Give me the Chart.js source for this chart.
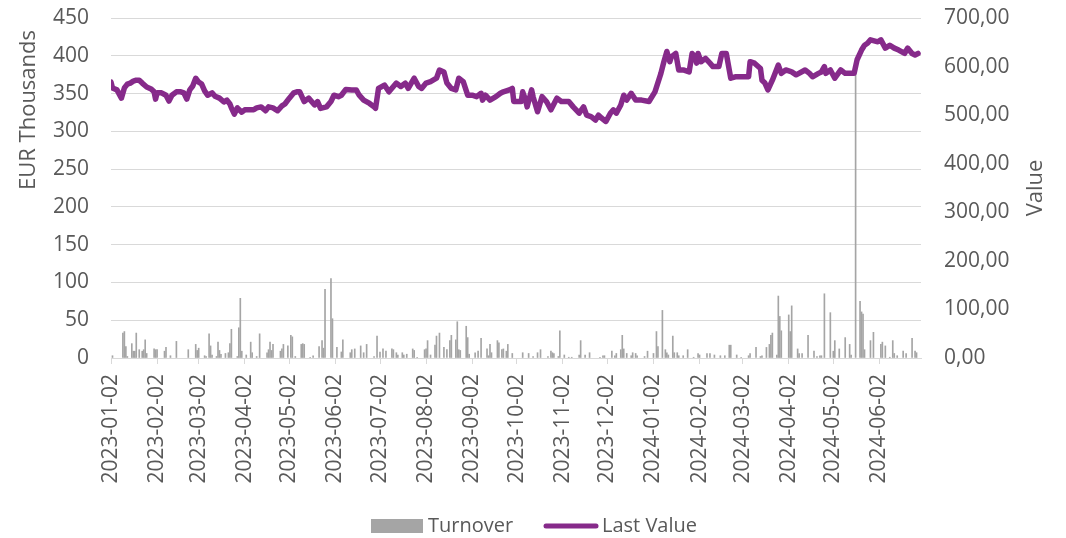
<!DOCTYPE html>
<html>
<head>
<meta charset="utf-8">
<script src="https://cdn.jsdelivr.net/npm/chart.js@4.4.1/dist/chart.umd.min.js"></script>
<style>
  html, body { margin: 0; padding: 0; background: #fff; }
</style>
</head>
<body>
<canvas id="chart" width="1066" height="538"></canvas>
<script>
// Data (day = calendar days since START_DATE)
const START_DATE = "2023-01-02";

const tickLabels = [
  "2023-01-02", "2023-02-02", "2023-03-02", "2023-04-02", "2023-05-02", "2023-06-02",
  "2023-07-02", "2023-08-02", "2023-09-02", "2023-10-02", "2023-11-02", "2023-12-02",
  "2024-01-02", "2024-02-02", "2024-03-02", "2024-04-02", "2024-05-02", "2024-06-02"
];

// Last Value (right axis)
const lastValueDays = [
  0, 1, 4, 7, 9, 11, 13, 15, 17, 19,
  21, 24, 27, 29, 30, 31, 34, 37, 39, 41,
  44, 47, 49, 51, 53, 55, 57, 59, 61, 63,
  65, 68, 70, 73, 76, 78, 80, 81, 83, 85,
  88, 90, 93, 96, 98, 101, 104, 106, 109, 112,
  115, 117, 120, 123, 125, 127, 130, 133, 137, 139,
  141, 145, 148, 150, 153, 155, 158, 162, 165, 167,
  170, 174, 177, 178, 180, 184, 187, 192, 195, 198,
  200, 204, 207, 209, 212, 215, 219, 221, 224, 226,
  229, 232, 234, 237, 240, 243, 246, 249, 250, 252,
  255, 259, 262, 264, 268, 270, 271, 276, 277, 279,
  280, 283, 284, 287, 290, 293, 296, 300, 303, 308,
  311, 315, 318, 320, 323, 326, 328, 330, 333, 336,
  338, 340, 343, 345, 347, 350, 353, 357, 362, 366,
  370, 372, 374, 376, 377, 380, 382, 385, 389, 391,
  393, 394, 395, 397, 400, 403, 405, 409, 411, 414,
  417, 420, 423, 429, 430, 433, 437, 438, 440, 442,
  445, 449, 451, 454, 458, 461, 467, 470, 472, 476,
  478, 480, 481, 484, 487, 491, 494, 500, 502, 505,
  507, 509, 511, 516, 518, 521, 524, 527, 530, 534,
  536, 539, 541, 543
];
const lastValues = [
  568, 556, 552, 535, 556, 564, 566, 570, 572, 572,
  566, 558, 554, 548, 533, 546, 546, 541, 529, 541,
  548, 548, 546, 533, 552, 560, 576, 568, 564, 550,
  541, 546, 539, 535, 527, 531, 523, 515, 502, 515,
  506, 511, 511, 511, 515, 517, 509, 517, 515, 509,
  519, 523, 535, 546, 548, 548, 528, 535, 521, 528,
  514, 517, 528, 541, 538, 541, 553, 552, 552, 541,
  531, 524, 517, 514, 555, 562, 548, 566, 559, 566,
  555, 576, 559, 555, 566, 569, 576, 593, 589, 566,
  555, 552, 576, 569, 541, 541, 538, 545, 531, 541,
  531, 538, 545, 548, 552, 555, 528, 528, 548, 531,
  517, 552, 538, 507, 538, 528, 511, 535, 528, 528,
  517, 504, 517, 500, 497, 490, 500, 494, 487, 504,
  511, 504, 521, 541, 531, 545, 531, 531, 528, 548,
  586, 610, 631, 610, 620, 627, 593, 593, 589, 627,
  620, 607, 627, 610, 617, 607, 600, 600, 627, 627,
  576, 579, 579, 579, 610, 607, 596, 572, 566, 552,
  572, 603, 586, 593, 589, 583, 593, 586, 579, 586,
  589, 600, 586, 593, 576, 593, 586, 586, 614, 634,
  644, 648, 655, 651, 655, 638, 644, 638, 634, 627,
  638, 627, 624, 627
];

// Turnover (left axis, EUR thousands)
const turnoverDays = [
  1, 8, 9, 10, 11, 14, 15, 16, 17, 19,
  21, 22, 23, 24, 29, 30, 31, 36, 37, 40,
  44, 52, 57, 58, 59, 63, 64, 66, 67, 68,
  71, 72, 73, 74, 77, 79, 80, 81, 85, 86,
  87, 88, 91, 94, 95, 98, 100, 105, 106, 107,
  108, 109, 114, 115, 116, 119, 121, 122, 124, 128,
  129, 130, 134, 136, 140, 142, 143, 144, 148, 149,
  152, 155, 156, 161, 162, 164, 168, 170, 172, 177,
  179, 181, 183, 185, 189, 190, 192, 193, 196, 197,
  199, 203, 204, 206, 211, 212, 213, 215, 218, 219,
  221, 224, 226, 228, 229, 232, 233, 234, 235, 239,
  240, 241, 245, 247, 249, 253, 254, 255, 256, 260,
  261, 263, 264, 266, 267, 270, 277, 281, 284, 287,
  289, 294, 296, 297, 298, 301, 302, 305, 308, 310,
  315, 316, 319, 322, 329, 331, 332, 337, 339, 340,
  343, 344, 345, 347, 350, 351, 353, 354, 359, 361,
  365, 367, 368, 371, 373, 374, 375, 378, 379, 381,
  382, 385, 388, 392, 395, 396, 401, 403, 406, 410,
  413, 416, 417, 421, 424, 429, 430, 434, 437, 438,
  441, 443, 444, 445, 448, 449, 450, 451, 456, 457,
  458, 462, 463, 465, 469, 473, 475, 477, 478, 480,
  484, 486, 487, 490, 494, 497, 498, 501, 504, 505,
  506, 507, 511, 513, 518, 519, 521, 524, 526, 527,
  529, 533, 535, 539, 541, 542
];
const turnoverValues = [
  3, 33, 35, 15, 2, 19, 9, 9, 33, 11,
  9, 11, 24, 6, 12, 11, 11, 9, 14, 3,
  22, 11, 18, 10, 13, 3, 2, 32, 16, 4,
  2, 21, 10, 5, 6, 7, 19, 38, 2, 40,
  79, 9, 4, 21, 7, 2, 32, 7, 11, 21,
  10, 18, 9, 12, 18, 16, 30, 28, 2, 18,
  19, 18, 1, 3, 15, 23, 13, 91, 105, 52,
  14, 8, 24, 7, 11, 12, 16, 7, 18, 2,
  29, 8, 12, 9, 12, 11, 7, 4, 7, 4,
  5, 12, 10, 1, 11, 12, 23, 4, 17, 29,
  33, 14, 11, 23, 30, 24, 48, 11, 10, 42,
  27, 5, 7, 9, 26, 12, 3, 18, 7, 23,
  20, 11, 12, 9, 18, 6, 7, 6, 2, 7,
  11, 2, 9, 7, 6, 2, 36, 4, 1, 1,
  4, 23, 4, 7, 1, 3, 3, 9, 3, 6,
  11, 30, 12, 6, 3, 7, 6, 3, 2, 9,
  6, 35, 15, 63, 11, 7, 4, 29, 7, 7,
  3, 3, 11, 1, 6, 4, 6, 6, 4, 3,
  3, 17, 17, 4, 1, 3, 6, 14, 2, 3,
  14, 18, 30, 33, 4, 82, 55, 36, 57, 35,
  69, 12, 6, 6, 30, 9, 2, 3, 3, 85,
  60, 9, 23, 12, 27, 18, 4, 375, 75, 61,
  58, 11, 23, 34, 18, 21, 16, 1, 23, 6,
  3, 9, 6, 26, 9, 7
];

const TEXT = "#595959";
const GRID = "#d9d9d9";
const PURPLE = "#862a8a";
const GREY = "#a5a5a5";
const FONT = '"Open Sans", "Liberation Sans", sans-serif';

const dayOf = (s) => Math.round((Date.parse(s) - Date.parse(START_DATE)) / 86400000);
const tickDays = tickLabels.map(dayOf);

const turnoverData = turnoverDays.map((d, i) => ({ x: d, y: turnoverValues[i] }));
const lastValueData = lastValueDays.map((d, i) => ({ x: d, y: lastValues[i] }));

// axis titles + legend, placed like the Excel original
const extras = {
  id: "extras",
  afterDraw(chart) {
    const { ctx, chartArea } = chart;
    ctx.save();
    ctx.fillStyle = TEXT;
    ctx.textAlign = "center";
    ctx.textBaseline = "middle";
    ctx.font = "22px " + FONT;

    ctx.save();
    ctx.translate(chartArea.left - 82, 110);
    ctx.rotate(-Math.PI / 2);
    ctx.fillText("EUR Thousands", 0, 0);
    ctx.restore();

    ctx.save();
    ctx.translate(chartArea.right + 115, (chartArea.top + chartArea.bottom) / 2);
    ctx.rotate(-Math.PI / 2);
    ctx.fillText("Value", 0, 0);
    ctx.restore();

    // legend
    const ly = 526;
    ctx.font = "20px " + FONT;
    ctx.textAlign = "left";
    ctx.fillStyle = GREY;
    ctx.fillRect(371, ly - 7, 52, 14);
    ctx.fillStyle = TEXT;
    ctx.fillText("Turnover", 428, ly);

    ctx.strokeStyle = PURPLE;
    ctx.lineWidth = 5;
    ctx.lineCap = "round";
    ctx.beginPath();
    ctx.moveTo(546, ly);
    ctx.lineTo(596, ly);
    ctx.stroke();
    ctx.fillText("Last Value", 602, ly);
    ctx.restore();
  }
};

new Chart(document.getElementById("chart"), {
  data: {
    datasets: [
      {
        type: "line",
        label: "Last Value",
        data: lastValueData,
        yAxisID: "y1",
        borderColor: PURPLE,
        borderWidth: 5.5,
        borderJoinStyle: "round",
        borderCapStyle: "round",
        pointRadius: 0,
        tension: 0,
        order: 0
      },
      {
        type: "bar",
        label: "Turnover",
        data: turnoverData,
        yAxisID: "y",
        backgroundColor: GREY,
        barThickness: 1,
        order: 1
      }
    ]
  },
  options: {
    responsive: false,
    animation: false,
    layout: { padding: { top: 18, left: 0, right: 0, bottom: 0 } },
    plugins: {
      legend: { display: false },
      tooltip: { enabled: false }
    },
    scales: {
      x: {
        type: "linear",
        offset: false,
        min: 0,
        max: 545,
        afterBuildTicks: (s) => { s.ticks = tickDays.map((v) => ({ value: v })); },
        afterFit: (s) => { s.height = 180; },
        grid: { drawOnChartArea: false, drawTicks: true, tickLength: 6, color: GRID, offset: false },
        border: { display: true, color: GRID },
        ticks: {
          autoSkip: false,
          maxRotation: 90,
          minRotation: 90,
          padding: 10,
          color: TEXT,
          font: { family: FONT, size: 21 },
          callback: (v, i) => tickLabels[i]
        }
      },
      y: {
        position: "left",
        min: 0,
        max: 450,
        afterFit: (s) => { s.width = 111; },
        grid: { color: GRID, drawTicks: true, tickLength: 20, tickColor: "rgba(0,0,0,0)" },
        border: { display: false },
        ticks: { stepSize: 50, padding: 2, color: TEXT, font: { family: FONT, size: 21 } }
      },
      y1: {
        position: "right",
        min: 0,
        max: 700,
        afterFit: (s) => { s.width = 145; },
        grid: { display: false, drawOnChartArea: false, drawTicks: true, tickLength: 21, tickColor: "rgba(0,0,0,0)" },
        border: { display: false },
        ticks: {
          stepSize: 100,
          padding: 2,
          color: TEXT,
          font: { family: FONT, size: 21 },
          callback: (v) => v.toFixed(2).replace(".", ",")
        }
      }
    }
  },
  plugins: [extras]
});
</script>
</body>
</html>
